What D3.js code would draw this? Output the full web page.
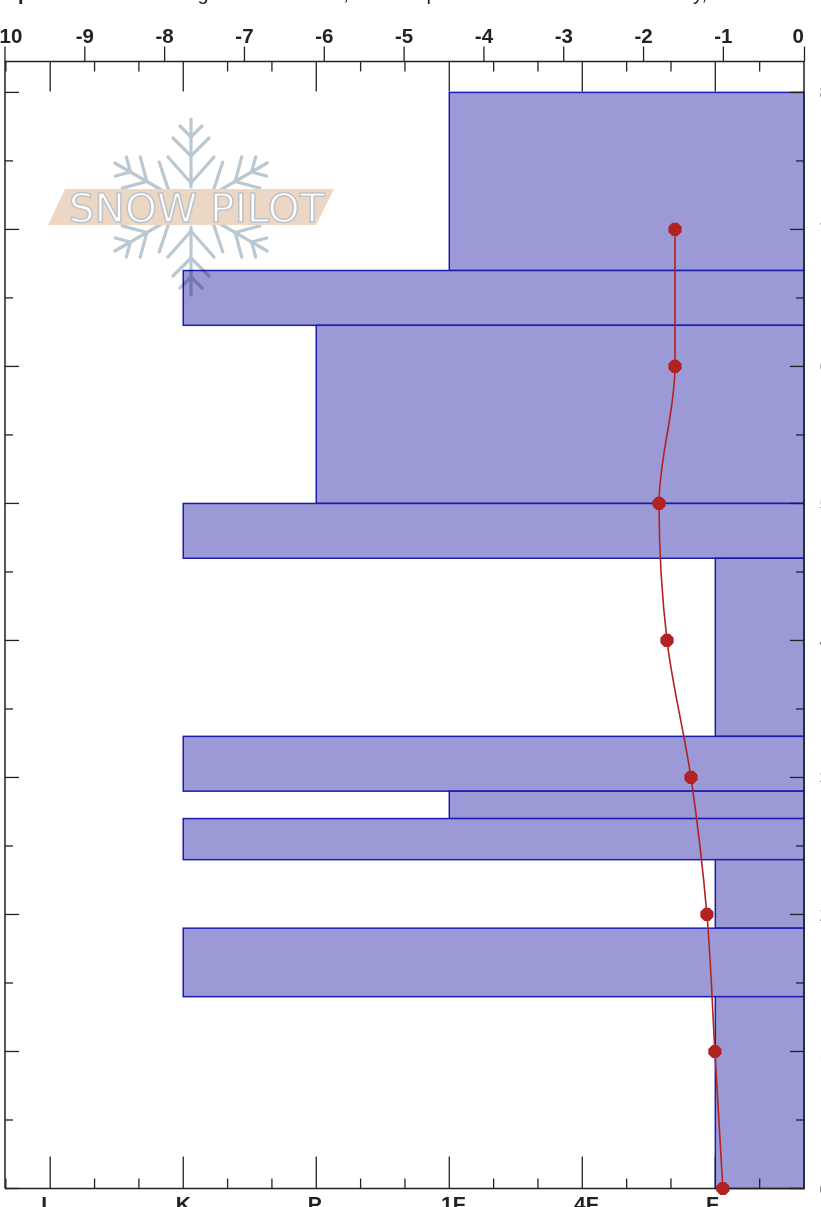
<!DOCTYPE html>
<html>
<head>
    <title>Snow Pilot profile</title>
    <script src="https://d3js.org/d3.v7.min.js"></script>
    <style>
        html, body { margin: 0; padding: 0; background: #fff; overflow: hidden; }
        svg { display: block; }
    </style>
</head>
<body>
    <div id="chart"></div>
    <script>
        // layer tops / bottoms in cm and hand hardness
        const layerTop = [80, 67, 63, 50, 46, 33, 29, 27, 24, 19, 14];
        const layerBottom = [67, 63, 50, 46, 33, 29, 27, 24, 19, 14, 0];
        const layerHardness = [3, 5, 4, 5, 1, 5, 3, 5, 1, 5, 1];

        // temperature profile
        const tempHeight = [70, 60, 50, 40, 30, 20, 10, 0];
        const tempValue = [-1.6, -1.6, -1.8, -1.7, -1.4, -1.2, -1.1, -1.0];

        // axis ticks
        const tempTicks = [-10, -9, -8, -7, -6, -5, -4, -3, -2, -1, 0];
        const hardLabels = ["F", "4F", "1F", "P", "K", "I"];
        const hardValues = [1, 2, 3, 4, 5, 6];
        const heightTicks = [0, 10, 20, 30, 40, 50, 60, 70, 80];
        const heightMinor = [5, 15, 25, 35, 45, 55, 65, 75];

        // header line is cut off by the page, only descenders show
        const headerBits = ["p", "g", ",", "p", "y,"];

        const width = 821, height = 1207;
        const plotLeft = 5, plotRight = 804, plotTop = 61.5, plotBottom = 1188.5;
        const sans = "'Liberation Sans', Arial, sans-serif";

        const headerAt = [24, 203, 346, 432, 700];
        const hardLabelNudge = [-3, 4, 4, -1.5, 0, -6];

        const svg = d3.select("#chart").append("svg")
            .attr("width", width)
            .attr("height", height)
            .style("font-family", sans);

        // the temperature scale ends a little short of the frame
        const xTemp = d3.scaleLinear().domain([-10, 0]).range([4.5, 802.7]);
        const xHard = d3.scaleLinear().domain([1 / 3, 6.34]).range([plotRight, plotLeft]);
        const y = d3.scaleLinear().domain([0, 80]).range([plotBottom, 92.4]);

        const hardMinor = d3.range(1, 19).map(function(d) { return d / 3 + 1 / 3; })
            .filter(function(d) { return Math.abs(d - Math.round(d)) > 0.01; });

        // header
        svg.append("g").selectAll("text")
            .data(headerBits)
            .join("text")
            .attr("x", function(d, i) { return headerAt[i]; })
            .attr("y", 0)
            .attr("text-anchor", "middle")
            .attr("font-size", 20)
            .attr("font-weight", function(d, i) { return i === 0 ? "bold" : "normal"; })
            .attr("fill", "#222")
            .text(function(d) { return d; });

        // layers
        svg.append("g").selectAll("rect")
            .data(layerTop)
            .join("rect")
            .attr("x", function(d, i) { return xHard(layerHardness[i]); })
            .attr("y", function(d) { return y(d); })
            .attr("width", function(d, i) { return plotRight - xHard(layerHardness[i]); })
            .attr("height", function(d, i) { return y(layerBottom[i]) - y(d); })
            .attr("fill", "#9b99d6")
            .attr("stroke", "#1c1cb0")
            .attr("stroke-width", 1.5);

        // frame
        const frame = svg.append("g").attr("fill", "none").attr("stroke", "#222").attr("stroke-width", 1.5);
        frame.append("path")
            .attr("d", d3.line()([[plotLeft, plotBottom], [plotLeft, plotTop], [plotRight, plotTop], [plotRight, plotBottom], [plotLeft, plotBottom]]));

        // temperature axis above the frame
        const tempAxis = d3.axisTop(xTemp)
            .tickValues(tempTicks)
            .tickSize(15)
            .tickPadding(4);
        const gTemp = svg.append("g").attr("transform", "translate(0," + plotTop + ")").call(tempAxis);
        gTemp.select(".domain").remove();
        gTemp.selectAll("line").attr("stroke", "#222").attr("stroke-width", 1.3);
        gTemp.selectAll("line").filter(function(d) { return d === 0; }).attr("x1", 1.3).attr("x2", 1.3);
        gTemp.selectAll("text")
            .style("font-family", sans)
            .attr("font-size", 20.5).attr("font-weight", "bold").attr("fill", "#222")
            .attr("text-anchor", "middle")
            .text(function(d) { return d === 0 ? "0" : "-" + Math.abs(d); });
        gTemp.selectAll("text").attr("dx", function(d) { return d === 0 ? -5 : (d === -10 ? 2.5 : 0); });

        // hardness ticks, inside top and bottom
        function hardTicks(g, values, size, yPos, dir) {
            g.selectAll(null)
                .data(values)
                .join("line")
                .attr("x1", function(d) { return xHard(d); })
                .attr("x2", function(d) { return xHard(d); })
                .attr("y1", yPos)
                .attr("y2", yPos + dir * size)
                .attr("stroke", "#222")
                .attr("stroke-width", 1.3);
        }
        const gHard = svg.append("g");
        hardTicks(gHard.append("g"), hardValues, 30, plotTop, 1);
        hardTicks(gHard.append("g"), hardMinor, 10, plotTop, 1);
        hardTicks(gHard.append("g"), hardValues, 32, plotBottom, -1);
        hardTicks(gHard.append("g"), hardMinor, 10, plotBottom, -1);

        // hardness labels are cut by the page bottom
        svg.append("g").selectAll("text")
            .data(hardValues)
            .join("text")
            .attr("x", function(d, i) { return xHard(d) + hardLabelNudge[i]; })
            .attr("y", 1211)
            .attr("text-anchor", "middle")
            .attr("font-size", 21).attr("font-weight", "bold").attr("fill", "#222")
            .text(function(d, i) { return hardLabels[i]; });

        // height ticks on both sides
        function heightSide(x0, dir) {
            const g = svg.append("g");
            g.append("g").selectAll("line").data(heightTicks).join("line")
                .attr("x1", x0).attr("x2", x0 + dir * 14)
                .attr("y1", function(d) { return y(d); })
                .attr("y2", function(d) { return y(d); })
                .attr("stroke", "#222").attr("stroke-width", 1.3);
            g.append("g").selectAll("line").data(heightMinor).join("line")
                .attr("x1", x0).attr("x2", x0 + dir * 8)
                .attr("y1", function(d) { return y(d); })
                .attr("y2", function(d) { return y(d); })
                .attr("stroke", "#222").attr("stroke-width", 1.3);
        }
        heightSide(plotLeft, 1);
        heightSide(plotRight, -1);

        // height labels, almost entirely past the right edge
        svg.append("g").selectAll("text")
            .data(heightTicks)
            .join("text")
            .attr("x", 819.5)
            .attr("y", function(d) { return y(d) + 7; })
            .attr("font-size", 19).attr("fill", "#555")
            .text(function(d) { return d; });

        // temperature line
        const line = d3.line()
            .x(function(d, i) { return xTemp(tempValue[i]); })
            .y(function(d) { return y(d); })
            .curve(d3.curveMonotoneY);
        svg.append("path")
            .attr("d", line(tempHeight))
            .attr("fill", "none")
            .attr("stroke", "#b22222")
            .attr("stroke-width", 1.6);
        svg.append("g").selectAll("path")
            .data(tempHeight)
            .join("path")
            .attr("transform", function(d, i) { return "translate(" + xTemp(tempValue[i]) + "," + y(d) + ")"; })
            .attr("d", "M-2.6,-6.6L2.6,-6.6L6.6,-2.6L6.6,2.6L2.6,6.6L-2.6,6.6L-6.6,2.6L-6.6,-2.6Z")
            .attr("fill", "#b22222");

        // watermark
        const logo = svg.append("g").attr("transform", "translate(191,207)").style("mix-blend-mode", "multiply");
        const arm = logo.append("g")
            .attr("stroke", "#b9c8d2").attr("stroke-width", 3.2).attr("fill", "none")
            .attr("stroke-linecap", "round");
        const armPaths = ["M0,-20V-88", "M0,-24L-23,-50", "M0,-24L23,-50", "M0,-51L-18,-69", "M0,-51L18,-69", "M0,-70L-11,-81", "M0,-70L11,-81"];
        [0, 60, 120, 180, 240, 300].forEach(function(a) {
            arm.append("g").attr("transform", "rotate(" + a + ")")
                .selectAll("path").data(armPaths).join("path").attr("d", function(d) { return d; });
        });
        const logoTop = svg.append("g").attr("transform", "translate(191,207)");
        logoTop.append("path")
            .attr("d", "M-126,-18H143L125,18H-143Z")
            .attr("fill", "#ecd6c4");
        logoTop.append("text")
            .attr("x", 5.7).attr("y", 14.5)
            .attr("text-anchor", "middle")
            .style("font-family", "'DejaVu Sans', sans-serif")
            .attr("font-size", 39)
            .attr("textLength", 256)
            .attr("lengthAdjust", "spacingAndGlyphs")
            .attr("fill", "#fff")
            .attr("stroke", "#bfc4c8")
            .attr("stroke-width", 1.5)
            .text("SNOW PILOT");
    </script>
</body>
</html>
